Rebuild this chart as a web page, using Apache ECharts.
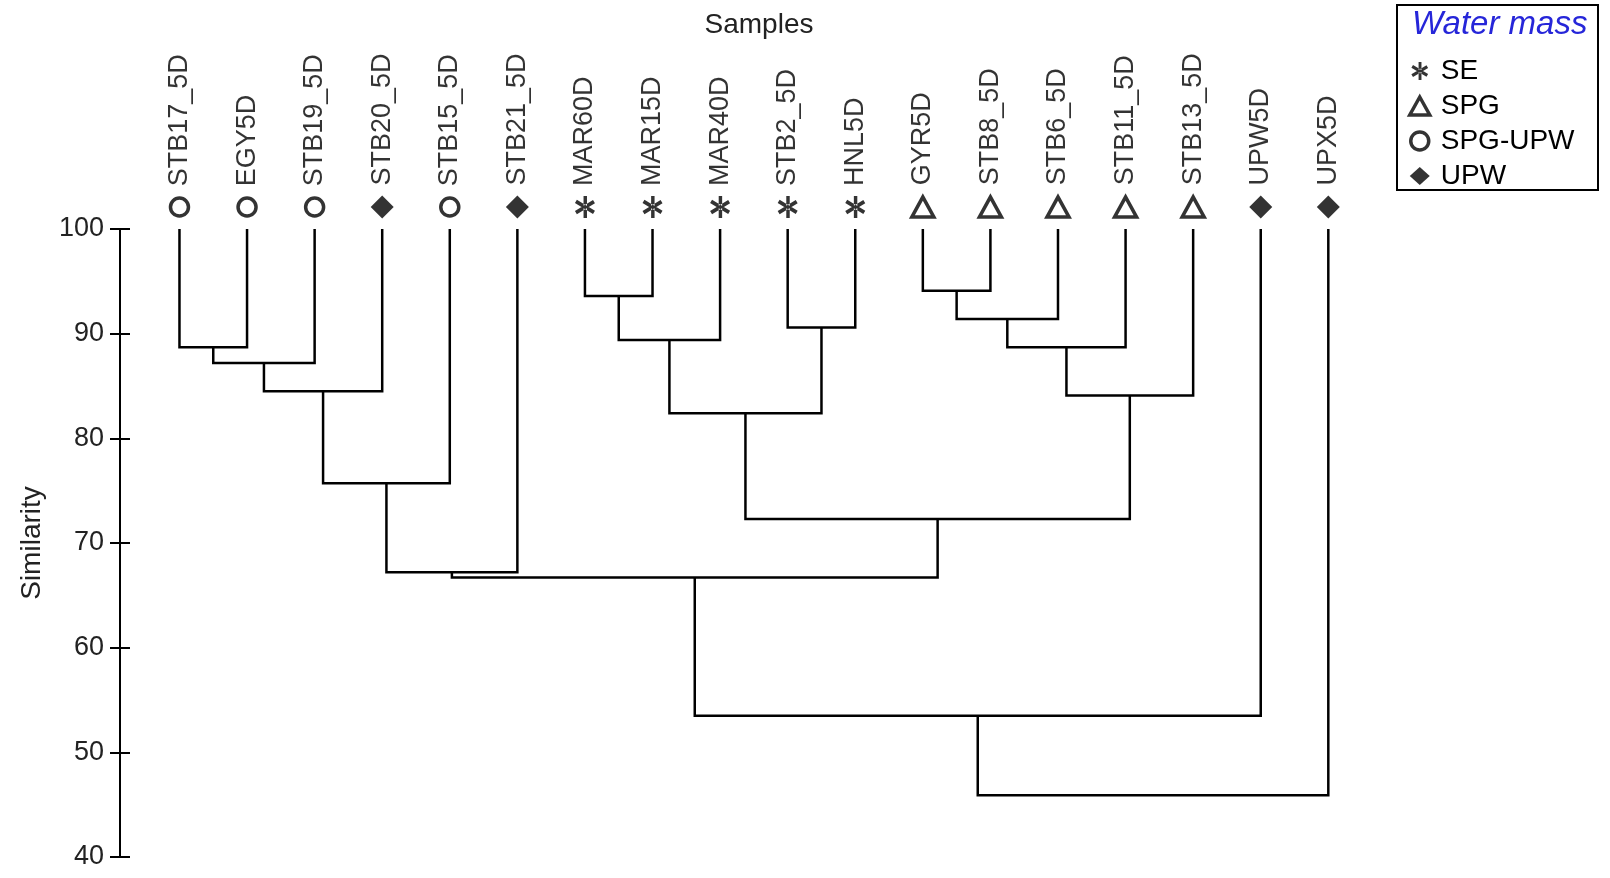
<!DOCTYPE html>
<html>
<head>
<meta charset="utf-8">
<script src="https://cdn.jsdelivr.net/npm/echarts@6/dist/echarts.min.js"></script>
<style>
html,body{margin:0;padding:0;background:#fff;}
#chart{width:1610px;height:878px;}
</style>
</head>
<body>
<div id="chart"></div>
<script>
// ---- data ----
const leaves = ['STB17_5D','EGY5D','STB19_5D','STB20_5D','STB15_5D','STB21_5D','MAR60D','MAR15D','MAR40D','STB2_5D','HNL5D','GYR5D','STB8_5D','STB6_5D','STB11_5D','STB13_5D','UPW5D','UPX5D'];
const leafGroups = ['SPG-UPW','SPG-UPW','SPG-UPW','UPW','SPG-UPW','UPW','SE','SE','SE','SE','SE','SPG','SPG','SPG','SPG','SPG','UPW','UPW'];
const groupNames = ['SE','SPG','SPG-UPW','UPW'];
// merges: [childA, childB, similarity]; leaves are 0..17, merge k creates node 18+k
const merges = [
  [0, 1, 88.7],
  [18, 2, 87.2],
  [19, 3, 84.5],
  [20, 4, 75.7],
  [21, 5, 67.2],
  [6, 7, 93.6],
  [23, 8, 89.4],
  [9, 10, 90.6],
  [24, 25, 82.4],
  [11, 12, 94.1],
  [27, 13, 91.4],
  [28, 14, 88.7],
  [29, 15, 84.1],
  [26, 30, 72.3],
  [22, 31, 66.7],
  [32, 16, 53.5],
  [33, 17, 45.9]
];
const yMin = 40, yMax = 100, yStep = 10;

// ---- build ----
const FONT = 'Liberation Sans, Arial, sans-serif';
const nodeX = leaves.map((_, i) => i);
const nodeY = leaves.map(() => yMax);
const segs = [];
merges.forEach(([a, b, h]) => {
  segs.push({coords: [[nodeX[a], nodeY[a]], [nodeX[a], h], [nodeX[b], h], [nodeX[b], nodeY[b]]]});
  nodeX.push((nodeX[a] + nodeX[b]) / 2);
  nodeY.push(h);
});

const asterisk = 'path://M42 0L58 0L58 100L42 100Z M2 32L86 82L95 67L11 17Z M11 83L95 33L86 18L2 68Z';
const styles = {
  'SE': {symbol: asterisk, symbolSize: [20, 22], itemStyle: {color: '#000', borderWidth: 0}},
  'SPG': {symbol: 'triangle', symbolSize: [22, 20], itemStyle: {color: '#fff', borderColor: '#000', borderWidth: 3.5}},
  'SPG-UPW': {symbol: 'circle', symbolSize: 18, itemStyle: {color: '#fff', borderColor: '#000', borderWidth: 3.5}},
  'UPW': {symbol: 'diamond', symbolSize: [23, 23], itemStyle: {color: '#000', borderWidth: 0}}
};
const markerY = 102.1;

const scatterSeries = groupNames.map(g => Object.assign({
  name: g,
  type: 'scatter',
  clip: false,
  z: 5,
  data: leaves.map((n, i) => leafGroups[i] === g ? {name: n, value: [i, markerY]} : null).filter(d => d),
  label: {
    show: true, position: 'top', rotate: 90, align: 'left', verticalAlign: 'middle',
    distance: 10, formatter: '{b}', fontSize: 27, fontFamily: FONT, color: '#000'
  }
}, styles[g]));

const chart = echarts.init(document.getElementById('chart'));
chart.setOption({
  animation: false,
  backgroundColor: '#fff',
  title: {
    text: 'Samples', left: 754, top: 6, textAlign: 'center',
    textStyle: {fontSize: 28, fontWeight: 'normal', fontFamily: FONT, color: '#222'}
  },
  grid: {left: 120, right: 206, top: 229, bottom: 21},
  xAxis: {type: 'value', min: -0.88, max: 18.12, show: false},
  yAxis: [{
    type: 'value', position: 'left', min: yMin, max: yMax, interval: yStep,
    name: 'Similarity', nameLocation: 'middle', nameRotate: 90, nameGap: 74,
    nameTextStyle: {fontSize: 28, fontFamily: FONT, color: '#222'},
    axisLine: {show: true, onZero: false, lineStyle: {color: '#000', width: 2}},
    axisTick: {show: true, length: 10, lineStyle: {color: '#000', width: 2}},
    axisLabel: {fontSize: 27, fontFamily: FONT, color: '#222', margin: 16},
    splitLine: {show: false}
  }, {
    type: 'value', position: 'left', min: yMin, max: yMax, interval: yStep,
    axisLine: {show: false, onZero: false},
    axisTick: {show: true, inside: true, length: 10, lineStyle: {color: '#000', width: 2}},
    axisLabel: {show: false},
    splitLine: {show: false}
  }],
  legend: {
    data: groupNames.map(g => ({name: g, icon: styles[g].symbol, itemStyle: styles[g].itemStyle})),
    orient: 'vertical', left: 1403, top: 52,
    itemWidth: 20, itemHeight: 18, itemGap: 7,
    textStyle: {fontSize: 28, fontFamily: FONT, color: '#000', padding: [0, 0, 0, 6]},
    selectedMode: false
  },
  graphic: [
    {type: 'rect', shape: {x: 1397, y: 5, width: 201, height: 185}, style: {fill: 'none', stroke: '#000', lineWidth: 2}, z: 10},
    {type: 'text', left: 1412, top: 8, style: {text: 'Water mass', fontSize: 33, fontStyle: 'italic', fontFamily: FONT, fill: '#2626d9'}, z: 10}
  ],
  series: [{
    type: 'lines', coordinateSystem: 'cartesian2d', polyline: true, silent: true,
    lineStyle: {color: '#000', width: 2.5, opacity: 1},
    data: segs
  }].concat(scatterSeries)
});
</script>
</body>
</html>
